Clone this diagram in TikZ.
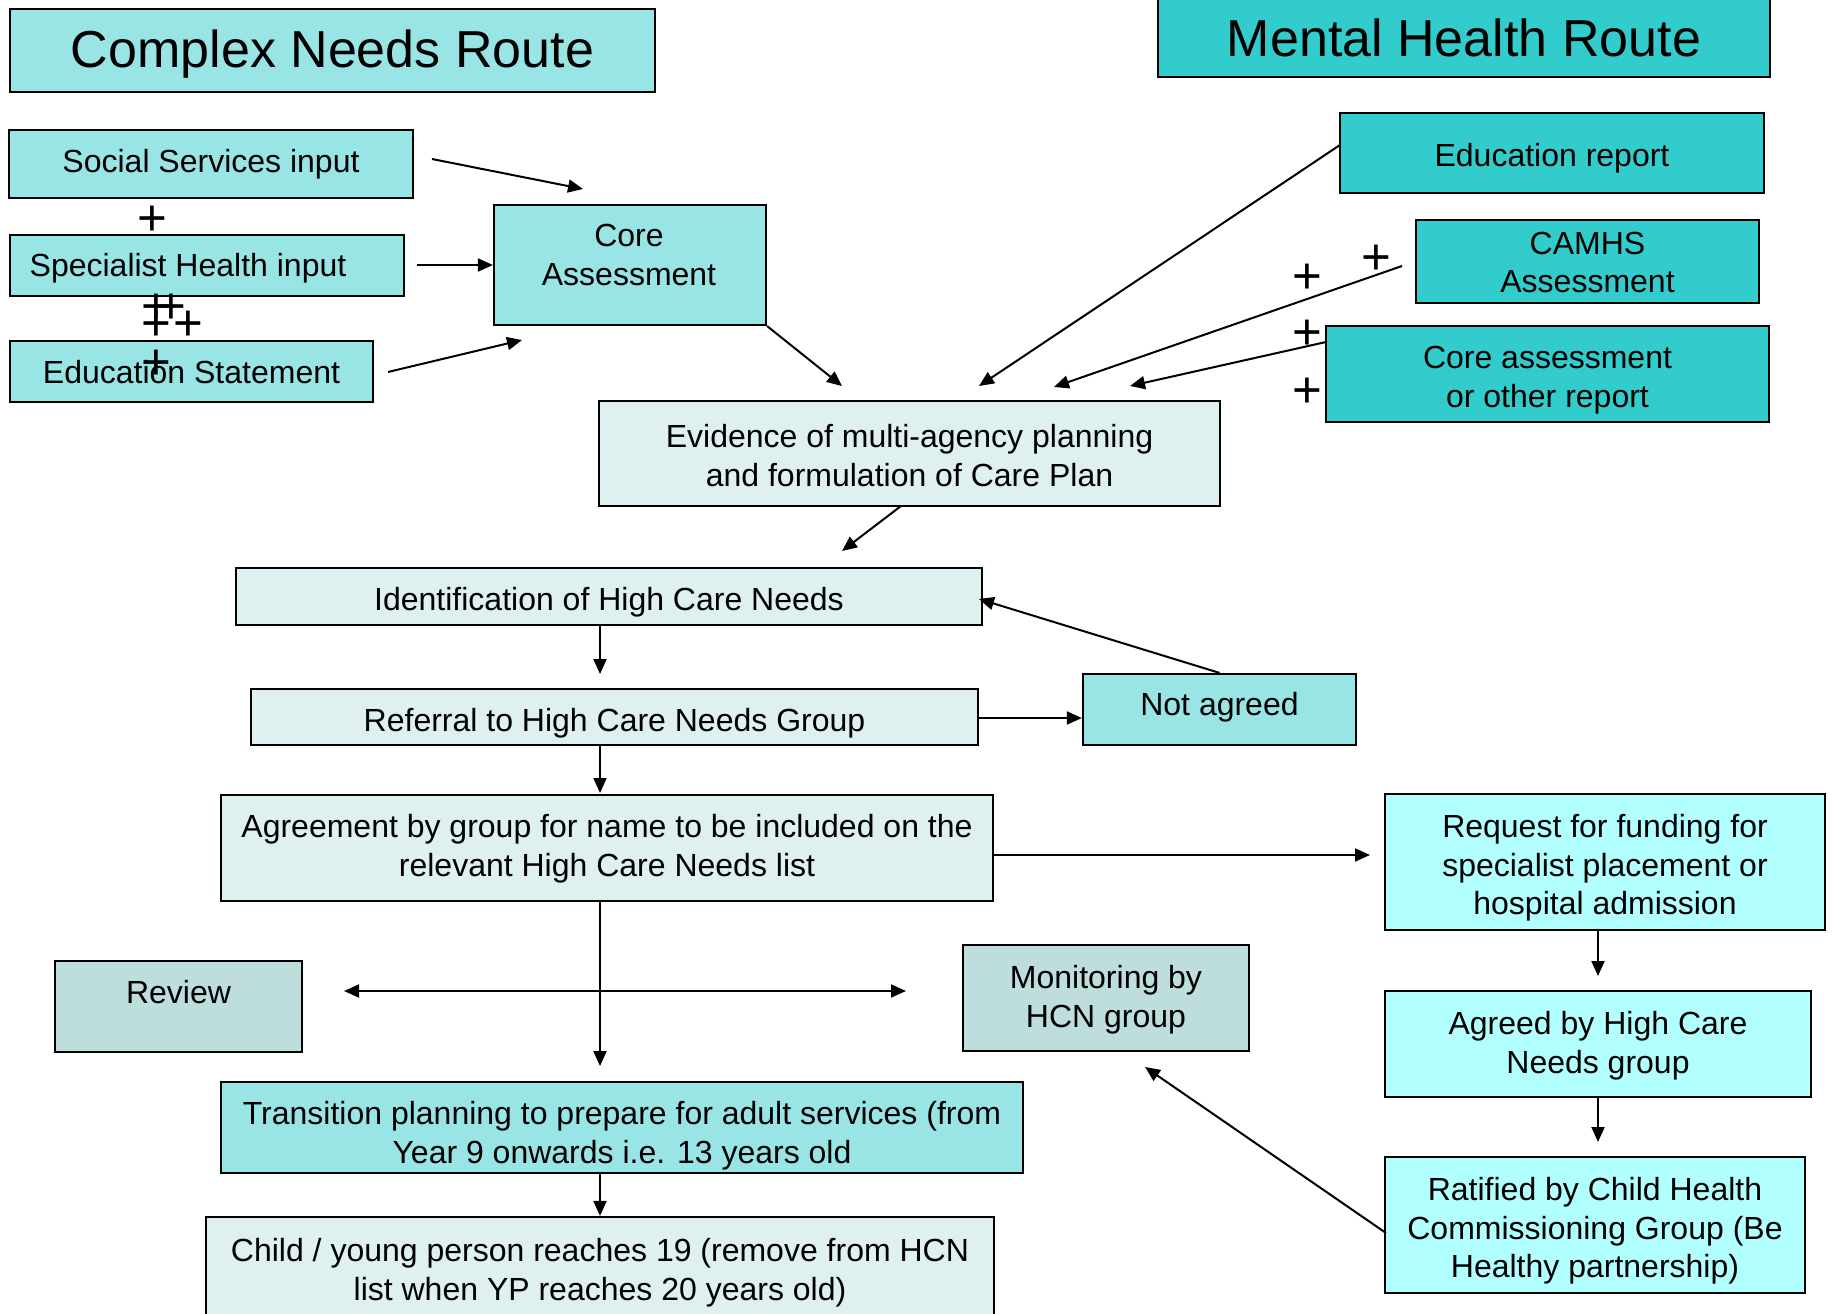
\documentclass[tikz,border=0pt]{standalone}
\usepackage{fontspec}
\setmainfont{Liberation Sans}
\usetikzlibrary{arrows.meta}
\definecolor{cyanL}{RGB}{153,229,229}
\definecolor{tealM}{RGB}{51,204,204}
\definecolor{paleC}{RGB}{223,240,240}
\definecolor{grayT}{RGB}{189,222,220}
\definecolor{aquaL}{RGB}{178,255,255}
\begin{document}
\begin{tikzpicture}[x=1pt,y=-1pt,
  box/.style={draw=black, line width=2.2pt, rectangle, inner sep=0pt},
  txt/.style={inner sep=0pt, align=center, font=\fontsize{32}{38.6}\selectfont},
  ttl/.style={inner sep=0pt, font=\fontsize{52}{60}\selectfont},
  conn/.style={line width=2pt, -{Triangle[length=15pt,width=13pt]}},
  dconn/.style={line width=2pt, {Triangle[length=15pt,width=13pt]}-{Triangle[length=15pt,width=13pt]}},
  plus/.style={inner sep=0pt, anchor=base, font=\fontsize{51}{51}\selectfont}]
\path[use as bounding box] (0,0) rectangle (1834,1314);

% titles
\node[box, fill=cyanL, minimum width=645pt, minimum height=83pt] (cnr) at (332.5,50.5) {};
\node[ttl] (cnrT) at (332.5,54) {Complex Needs Route};
\node[box, fill=tealM, minimum width=612pt, minimum height=79pt] (mhr) at (1464,37.5) {};
\node[ttl] (mhrT) at (1464,38) {Mental Health Route};

% left inputs
\node[box, fill=cyanL, minimum width=404pt, minimum height=68pt] (ssi) at (211,164) {};
\node[txt] (ssiT) at (211,164) {Social Services input};
\node[box, fill=cyanL, minimum width=394pt, minimum height=61pt] (shi) at (207,265.5) {};
\node[txt] (shiT) at (188,268.5) {Specialist Health input};
\node[box, fill=cyanL, minimum width=363pt, minimum height=61pt] (edu) at (191.5,371.5) {};
\node[txt] (eduT) at (191.5,372.5) {Education Statement};
\node[box, fill=cyanL, minimum width=272pt, minimum height=120pt] (core) at (630,265) {};
\node[txt] (coreT) at (629,255) {Core\\Assessment};

% plus signs
\node[plus] (p1) at (152,235) {+};
\node[plus] (p2) at (156,323.7) {+};
\node[plus] (p3) at (171,323.7) {+};
\node[plus] (p4) at (156,340.3) {+};
\node[plus] (p5) at (188.3,340.3) {+};
\node[plus] (p6) at (156,379.7) {+};
\node[plus] (p7) at (1376.6,274.7) {+};
\node[plus] (p8) at (1307.7,293) {+};
\node[plus] (p9) at (1307.7,349.7) {+};
\node[plus] (p10) at (1307.7,407) {+};

% right inputs
\node[box, fill=tealM, minimum width=424pt, minimum height=80pt] (edrep) at (1552,153) {};
\node[txt] (edrepT) at (1552,158) {Education report};
\node[box, fill=tealM, minimum width=343pt, minimum height=83pt] (camhs) at (1587.5,261.5) {};
\node[txt] (camhsT) at (1587.5,262.5) {CAMHS\\Assessment};
\node[box, fill=tealM, minimum width=443pt, minimum height=96pt] (coreoth) at (1547.5,374) {};
\node[txt] (coreothT) at (1547.5,380) {Core assessment\\or other report};

% central flow
\node[box, fill=paleC, minimum width=621pt, minimum height=105pt] (evid) at (909.5,453.5) {};
\node[txt] (evidT) at (909.5,455.5) {Evidence of multi-agency planning\\and formulation of Care Plan};
\node[box, fill=paleC, minimum width=746pt, minimum height=57pt] (ident) at (609,596.5) {};
\node[txt] (identT) at (609,602.5) {Identification of High Care Needs};
\node[box, fill=paleC, minimum width=727pt, minimum height=56pt] (ref) at (614.5,717) {};
\node[txt] (refT) at (614.5,723) {Referral to High Care Needs Group};
\node[box, fill=cyanL, minimum width=273pt, minimum height=71pt] (notag) at (1219.5,709.5) {};
\node[txt] (notagT) at (1219.5,707) {Not agreed};
\node[box, fill=paleC, minimum width=772pt, minimum height=106pt] (agree) at (607,848) {};
\node[txt] (agreeT) at (607,849) {Agreement by group for name to be included on the\\relevant High Care Needs list};
\node[box, fill=aquaL, minimum width=440pt, minimum height=136pt] (req) at (1605,862) {};
\node[txt] (reqT) at (1605,868) {Request for funding for\\specialist placement or\\hospital admission};
\node[box, fill=aquaL, minimum width=426pt, minimum height=106pt] (agreed) at (1598,1044) {};
\node[txt] (agreedT) at (1598,1046) {Agreed by High Care\\Needs group};
\node[box, fill=aquaL, minimum width=420pt, minimum height=136pt] (ratif) at (1595,1225) {};
\node[txt] (ratifT) at (1595,1231) {Ratified by Child Health\\Commissioning Group (Be\\Healthy partnership)};
\node[box, fill=grayT, minimum width=286pt, minimum height=106pt] (monit) at (1106,998) {};
\node[txt] (monitT) at (1106,1000) {Monitoring by\\HCN group};
\node[box, fill=grayT, minimum width=247pt, minimum height=91pt] (review) at (178.5,1006.5) {};
\node[txt] (reviewT) at (178.5,992) {Review};
\node[box, fill=cyanL, minimum width=802pt, minimum height=91pt] (trans) at (622,1127.5) {};
\node[txt] (transT) at (622,1135.5) {Transition planning to prepare for adult services (from\\Year 9 onwards i.e. 13 years old};
\node[box, fill=paleC, minimum width=788pt, minimum height=123pt] (child) at (600,1278.5) {};
\node[txt] (childT) at (600,1273) {Child / young person reaches 19 (remove from HCN\\list when YP reaches 20 years old)};

% connector end coordinates
\coordinate (c1s) at (432,159);
\coordinate (c1e) at (583,189);
\coordinate (c2s) at (417,265);
\coordinate (c3s) at (388,372);
\coordinate (c3e) at (522,340);
\coordinate (c4e) at (842,386);
\coordinate (c5s) at (1340,145);
\coordinate (c5e) at (979,386);
\coordinate (c6s) at (1402,266);
\coordinate (c6e) at (1054,387);
\coordinate (c7s) at (1326,342);
\coordinate (c7e) at (1130,386);
\coordinate (c8s) at (901,506);
\coordinate (c8e) at (842,551);
\coordinate (c9e) at (979,599);
\coordinate (spine) at (600,0);
\coordinate (c10e) at (600,674);
\coordinate (c11e) at (600,793);
\coordinate (c12) at (1000,718);
\coordinate (c13e) at (1370,855);
\coordinate (c14e) at (1598,976);
\coordinate (c15e) at (1598,1142);
\coordinate (c16s) at (1386,1233);
\coordinate (c16e) at (1145,1067);
\coordinate (c17e) at (600,1066);
\coordinate (c18a) at (344,991);
\coordinate (c18b) at (906,991);

% connectors
\draw[conn] (c1s) -- (c1e);
\draw[conn] (c2s) -- (core.west);
\draw[conn] (c3s) -- (c3e);
\draw[conn] (core.south east) -- (c4e);
\draw[conn] (c5s) -- (c5e);
\draw[conn] (c6s) -- (c6e);
\draw[conn] (c7s) -- (c7e);
\draw[conn] (c8s) -- (c8e);
\draw[conn] (notag.north) -- (c9e);
\draw[conn] (ident.south -| spine) -- (c10e);
\draw[conn] (ref.south -| spine) -- (c11e);
\draw[conn] (ref.east |- c12) -- (notag.west |- c12);
\draw[conn] (agree.east |- c13e) -- (c13e);
\draw[conn] (req.south -| c14e) -- (c14e);
\draw[conn] (agreed.south -| c15e) -- (c15e);
\draw[conn] (c16s) -- (c16e);
\draw[conn] (agree.south -| spine) -- (c17e);
\draw[dconn] (c18a) -- (c18b);
\draw[conn] (trans.south -| spine) -- (child.north -| spine);
\end{tikzpicture}
\end{document}
